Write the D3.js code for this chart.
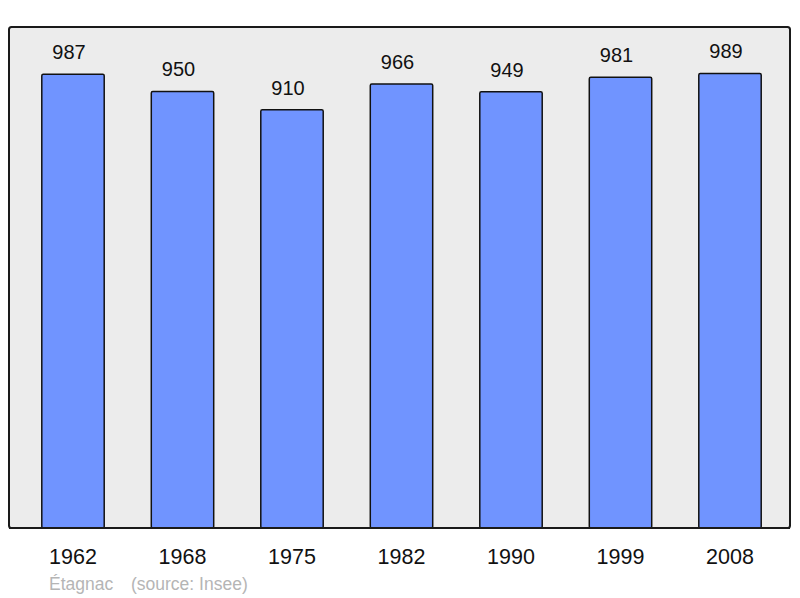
<!DOCTYPE html>
<html lang="fr">
<head>
    <meta charset="UTF-8">
    <title>Étagnac - population</title>
    <script src="https://d3js.org/d3.v7.min.js"></script>
    <style>
        html, body {
            margin: 0;
            padding: 0;
            background: #ffffff;
        }
        svg text {
            font-family: "Liberation Sans", Arial, sans-serif;
        }
    </style>
</head>
<body>
    <svg width="800" height="598"></svg>

    <script>
        // data
        const years = ["1962", "1968", "1975", "1982", "1990", "1999", "2008"];
        const population = [987, 950, 910, 966, 949, 981, 989];
        const place = "Étagnac";
        const source = "(source: Insee)";

        const svg = d3.select("svg");

        // background panel
        svg.append("rect")
            .attr("x", 9)
            .attr("y", 27)
            .attr("width", 781)
            .attr("height", 501)
            .attr("rx", 2.5)
            .attr("fill", "#ececec")
            .attr("stroke", "#1a1a1a")
            .attr("stroke-width", 2);

        const x = d3.scaleBand()
            .domain(years)
            .range([18.25, 784.75])
            .paddingInner(0.43)
            .paddingOuter(0.215);

        const y = d3.scaleLinear()
            .domain([0, d3.max(population) * 1.1])
            .range([528, 28]);

        const data = years.map((yr, i) => ({ year: yr, value: population[i] }));

        // bars
        svg.append("g")
            .selectAll("rect")
            .data(data)
            .enter().append("rect")
            .attr("x", d => x(d.year))
            .attr("y", d => y(d.value))
            .attr("width", x.bandwidth())
            .attr("height", d => 528 - y(d.value))
            .attr("rx", 1.5)
            .attr("fill", "#7094ff")
            .attr("stroke", "#111")
            .attr("stroke-width", 1.5);

        // redraw bottom edge of panel over bar bottoms
        svg.append("line")
            .attr("x1", 9)
            .attr("x2", 790)
            .attr("y1", 528)
            .attr("y2", 528)
            .attr("stroke", "#1a1a1a")
            .attr("stroke-width", 2);

        // value labels (sit a little left of the bar centre in the original)
        svg.append("g")
            .selectAll("text")
            .data(data)
            .enter().append("text")
            .attr("x", d => x(d.year) + x.bandwidth() / 2 - 4)
            .attr("y", d => y(d.value) - 15)
            .attr("text-anchor", "middle")
            .attr("font-size", 20)
            .attr("fill", "#111")
            .text(d => d.value);

        // year labels
        svg.append("g")
            .selectAll("text")
            .data(years)
            .enter().append("text")
            .attr("x", d => x(d) + x.bandwidth() / 2)
            .attr("y", 564)
            .attr("text-anchor", "middle")
            .attr("font-size", 21.5)
            .attr("fill", "#111")
            .text(d => d);

        // footer
        svg.append("text")
            .attr("x", 49)
            .attr("y", 590)
            .attr("font-size", 17.5)
            .attr("fill", "#b5b5b5")
            .text(place);

        svg.append("text")
            .attr("x", 131)
            .attr("y", 590)
            .attr("font-size", 17.5)
            .attr("fill", "#b5b5b5")
            .text(source);
    </script>
</body>
</html>
